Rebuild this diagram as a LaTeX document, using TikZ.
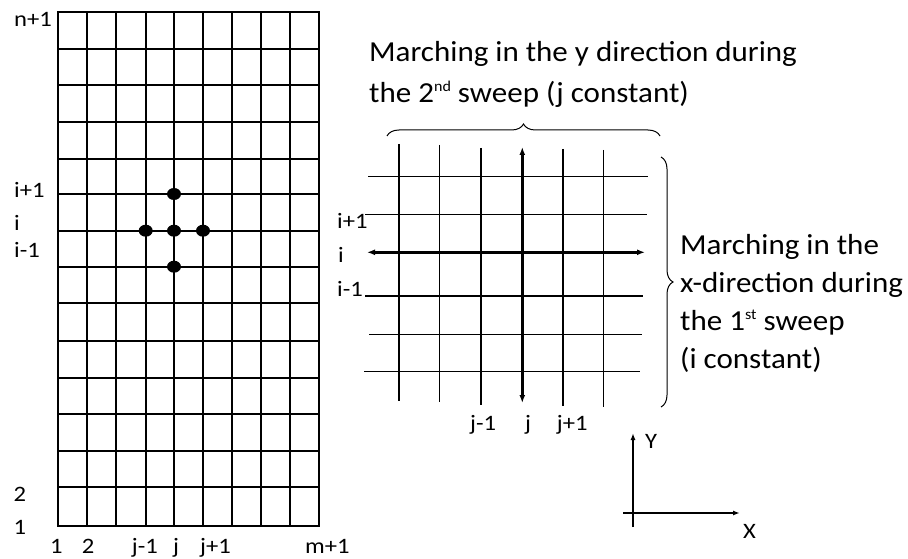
\documentclass[tikz,border=0pt]{standalone}
\usepackage{fontspec}
\setmainfont{Carlito}
\newfontfamily\lblfont[FakeStretch=1.12]{Carlito}
\newfontfamily\txtfont[FakeStretch=1.07]{Carlito}
\newcommand{\mysup}[1]{\raisebox{11pt}{\fontsize{15}{15}\selectfont #1}}
\usetikzlibrary{arrows.meta,decorations.pathreplacing,shapes.geometric}
\begin{document}
\begin{tikzpicture}[x=1pt,y=-1pt,
  gridthick/.style={line width=2.2pt,line cap=rect},
  gridthin/.style={line width=1.1pt},
  bigarrow/.style={line width=2.6pt,{Latex[length=8pt,width=6pt]}-{Latex[length=8pt,width=6pt]}},
  axisarrow/.style={line width=1.4pt,-{Latex[length=7pt,width=5pt]}},
  dotnode/.style={ellipse,fill=black,inner sep=0pt,minimum width=14pt,minimum height=12pt},
  lbl/.style={font=\lblfont\fontsize{22}{26}\selectfont,inner sep=0pt,anchor=base west},
  txt/.style={font=\txtfont\fontsize{29}{34}\selectfont,inner sep=0pt,anchor=base west},
  bracestyle/.style={line width=1pt,decorate,decoration={brace,amplitude=12pt}}
]
\useasboundingbox (0,0) rectangle (908,559);

% left grid
\foreach \x in {57.7,87,116.3,145.7,174,203,232.3,261,290,319}
  \draw[gridthick] (\x,12.3) -- (\x,526);
\foreach \y in {12.3,49,85,122.3,159,194,230.7,266.7,303.3,340.7,377.7,414.3,451,487,526}
  \draw[gridthick] (57.7,\y) -- (319,\y);

% stencil dots
\node[dotnode] (dup) at (174,194) {};
\node[dotnode] (dleft) at (145.7,230.7) {};
\node[dotnode] (dmid) at (174,230.7) {};
\node[dotnode] (dright) at (203,230.7) {};
\node[dotnode] (ddown) at (174,266.7) {};

% left labels
\node[lbl] (ln1) at (14,27) {n+1};
\node[lbl] (lip) at (14,197) {i+1};
\node[lbl] (li) at (14,230) {i};
\node[lbl] (lim) at (14,257) {i-1};
\node[lbl] (l2) at (13.3,501) {2};
\node[lbl] (l1) at (13.3,534) {1};
\node[lbl] (b1) at (50,553) {1};
\node[lbl] (b2) at (81.7,553) {2};
\node[lbl] (bjm) at (131.7,553) {j-1};
\node[lbl] (bj) at (173,553) {j};
\node[lbl] (bjp) at (200,553) {j+1};
\node[lbl] (bm) at (305,553) {m+1};

% right grid
\draw[gridthin] (399,144) -- (399,401);
\draw[gridthin] (439.5,145) -- (439.5,402);
\draw[gridthin] (481,148) -- (481,405);
\draw[gridthin] (563,149) -- (563,406);
\draw[gridthin] (603.3,150) -- (603.3,407);
\draw[gridthin] (368,176.7) -- (648,176.7);
\draw[gridthin] (365,214.3) -- (647,214.3);
\draw[gridthin] (365,296) -- (643,296);
\draw[gridthin] (369,334.3) -- (642,334.3);
\draw[gridthin] (364,371.7) -- (640,371.7);

\coordinate (hl) at (367,252.3);
\coordinate (hr) at (645,252.3);
\coordinate (vt) at (522.3,147);
\coordinate (vb) at (522.3,403);
\draw[bigarrow] (hl) -- (hr);
\draw[bigarrow] (vt) -- (vb);

% right grid labels
\node[lbl] (rip) at (337,229) {i+1};
\node[lbl] (ri) at (338,262) {i};
\node[lbl] (rim) at (337,296) {i-1};
\node[lbl] (rjm) at (470,430) {j-1};
\node[lbl] (rj) at (525,430) {j};
\node[lbl] (rjp) at (556.7,430) {j+1};

% braces
\coordinate (tbl) at (387,136);
\coordinate (tbr) at (660,136);
\draw[bracestyle] (tbl) -- (tbr);
\coordinate (rbt) at (661,157);
\coordinate (rbb) at (661,407);
\draw[bracestyle] (rbt) -- (rbb);

% texts
\node[txt] (t1) at (369,62) {Marching in the y direction during};
\node[txt] (t2) at (369,103) {the 2\mysup{nd} sweep (j constant)};
\node[txt] (r1) at (680,254) {Marching in the};
\node[txt] (r2) at (680,292) {x-direction during};
\node[txt] (r3) at (680,330) {the 1\mysup{st} sweep};
\node[txt] (r4) at (680,368) {(i constant)};

% axes
\coordinate (yb) at (633,527);
\coordinate (yt) at (633,433);
\coordinate (xl) at (623,513);
\coordinate (xr) at (740,513);
\draw[axisarrow] (yb) -- (yt);
\draw[axisarrow] (xl) -- (xr);
\node[lbl] (ylab) at (645,448) {Y};
\node[lbl] (xlab) at (743,538) {X};
\end{tikzpicture}
\end{document}
